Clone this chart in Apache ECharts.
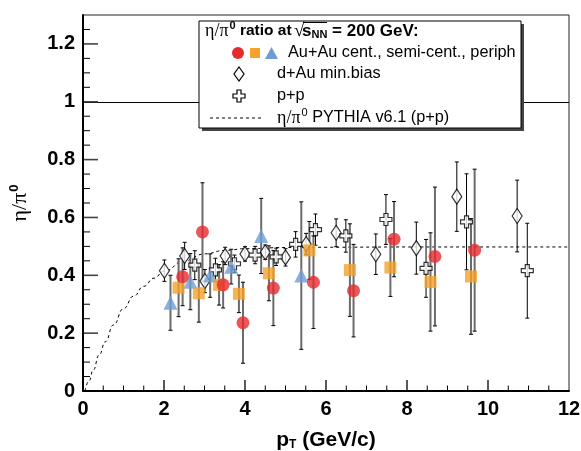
<!DOCTYPE html>
<html>
<head>
<meta charset="utf-8">
<script src="https://cdn.jsdelivr.net/npm/echarts@6/dist/echarts.min.js"></script>
<style>
html,body{margin:0;padding:0;background:#fff;}
#c{width:581px;height:451px;}
</style>
</head>
<body>
<div id="c"></div>
<script>
// ---------- data ----------
const xTickLabels = ['0','2','4','6','8','10','12'];
const yTickLabels = ['0','0.2','0.4','0.6','0.8','1','1.2'];
const xMajorTicks = [2, 4, 6, 8, 10];
const xMinorTicks = [0.5, 1, 1.5, 2.5, 3, 3.5, 4.5, 5, 5.5, 6.5, 7, 7.5, 8.5, 9, 9.5, 10.5, 11, 11.5];
const yMajorTicks = [0.2, 0.4, 0.6, 0.8, 1.0, 1.2];
const yMinorTicks = [0.05, 0.1, 0.15, 0.25, 0.3, 0.35, 0.45, 0.5, 0.55, 0.65, 0.7, 0.75, 0.85, 0.9, 0.95, 1.05, 1.1, 1.15, 1.25];

// Au+Au central (red circles)
const auCentPt  = [2.46, 2.95, 3.46, 3.95, 4.70, 5.69, 6.68, 7.68, 8.69, 9.67];
const auCentVal = [0.395, 0.55, 0.367, 0.236, 0.356, 0.376, 0.347, 0.525, 0.465, 0.487];
const auCentErr = [0.10, 0.17, 0.08, 0.14, 0.13, 0.16, 0.16, 0.13, 0.24, 0.28];

// Au+Au semi-central (orange squares)
const auSemiPt  = [2.36, 2.86, 3.36, 3.85, 4.59, 5.59, 6.59, 7.59, 8.58, 9.58];
const auSemiVal = [0.357, 0.338, 0.367, 0.336, 0.407, 0.486, 0.418, 0.427, 0.377, 0.396];
const auSemiErr = [0.10, 0.10, 0.07, 0.065, 0.095, 0.10, 0.16, 0.10, 0.17, 0.20];

// Au+Au peripheral (blue triangles)
const auPeriPt  = [2.16, 2.65, 3.14, 3.66, 4.40, 5.39];
const auPeriVal = [0.305, 0.378, 0.399, 0.430, 0.536, 0.399];
const auPeriErr = [0.095, 0.097, 0.075, 0.06, 0.13, 0.255];

// d+Au min. bias (open diamonds)
const dAuPt  = [2.01, 2.51, 3.01, 3.51, 4.00, 4.50, 5.00, 5.51, 6.25, 7.23, 8.23, 9.23, 10.72];
const dAuVal = [0.416, 0.467, 0.380, 0.467, 0.474, 0.480, 0.462, 0.508, 0.547, 0.473, 0.494, 0.672, 0.605];
const dAuErr = [0.037, 0.047, 0.04, 0.03, 0.025, 0.025, 0.03, 0.037, 0.048, 0.07, 0.09, 0.12, 0.124];

// p+p (open crosses)
const ppPt  = [2.76, 3.27, 3.74, 4.25, 4.77, 5.25, 5.74, 6.49, 7.48, 8.47, 9.47, 10.97];
const ppVal = [0.435, 0.419, 0.44, 0.47, 0.464, 0.507, 0.558, 0.536, 0.593, 0.424, 0.585, 0.416];
const ppErr = [0.05, 0.04, 0.03, 0.03, 0.03, 0.044, 0.054, 0.056, 0.086, 0.10, 0.166, 0.164];

// PYTHIA v6.1 (p+p) curve
const pythiaPt  = [0.05, 0.15, 0.25, 0.4, 0.55, 0.75, 1.0, 1.25, 1.5, 1.75, 2.0, 2.5, 3.0, 3.5, 4.0, 5.0, 6.0, 8.0, 10.0, 12.0];
const pythiaVal = [0.0, 0.035, 0.072, 0.125, 0.17, 0.228, 0.285, 0.328, 0.362, 0.39, 0.414, 0.450, 0.474, 0.486, 0.492, 0.496, 0.497, 0.498, 0.498, 0.498];

// ---------- helpers ----------
const zip3 = (a,b,c) => a.map((v,i)=>[v,b[i],c[i]]);
const zip2 = (a,b) => a.map((v,i)=>[v,b[i]]);

function errSeries(xs, ys, es, color, width, capColor, capW, z) {
  return {
    type: 'custom', z: z, silent: true,
    data: zip3(xs, ys, es),
    encode: {x: 0, y: 1},
    renderItem: function (params, api) {
      const x = api.value(0), y = api.value(1), e = api.value(2);
      const top = api.coord([x, y + e]);
      const bot = api.coord([x, y - e]);
      return {
        type: 'group',
        children: [
          {type: 'line', shape: {x1: top[0], y1: top[1], x2: bot[0], y2: bot[1]}, style: {stroke: color, lineWidth: width}},
          {type: 'line', shape: {x1: top[0]-capW, y1: top[1], x2: top[0]+capW, y2: top[1]}, style: {stroke: capColor, lineWidth: 1}},
          {type: 'line', shape: {x1: bot[0]-capW, y1: bot[1], x2: bot[0]+capW, y2: bot[1]}, style: {stroke: capColor, lineWidth: 1}}
        ]
      };
    }
  };
}

const crossPath = 'path://M4,0 H8 V4 H12 V8 H8 V12 H4 V8 H0 V4 H4 Z';
const RED = '#e62a2e', ORANGE = '#f5a12b', BLUE = '#6f9dd3';
const SANS = 'Liberation Sans, Arial, Helvetica, sans-serif';
const SERIF = 'Liberation Serif, Times New Roman, serif';

const GRID = {left: 83, right: 12, top: 15, bottom: 60};
const X_MIN = 0, X_MAX = 12, Y_MIN = 0, Y_MAX = 1.3;

const chart = echarts.init(document.getElementById('c'), null, {renderer: 'canvas'});

const legendGraphic = [
  {type: 'rect', z: 100, shape: {x: 202, y: 24, width: 322, height: 107}, style: {fill: '#444'}},
  {type: 'rect', z: 101, shape: {x: 199, y: 21, width: 322, height: 107}, style: {fill: '#fff', stroke: '#000', lineWidth: 1}},
  {type: 'text', z: 102, x: 205, y: 31, style: {
    text: '{g|η/π}{s|0}{b| ratio at}',
    verticalAlign: 'middle',
    rich: {
      g: {fontFamily: SERIF, fontSize: 18, fill: '#000'},
      s: {fontFamily: SANS, fontSize: 11, fontWeight: 'bold', fill: '#000', padding: [0, 0, 10, 1]},
      b: {fontFamily: SANS, fontSize: 15.5, fontWeight: 'bold', fill: '#000'}
    }
  }},
  {type: 'text', z: 102, x: 294, y: 31, style: {text: '√', verticalAlign: 'middle', font: '19px ' + SERIF, fill: '#000'}},
  {type: 'line', z: 102, shape: {x1: 303, y1: 22.5, x2: 327, y2: 22.5}, style: {stroke: '#000', lineWidth: 1}},
  {type: 'text', z: 102, x: 302, y: 31, style: {
    text: '{b|s}{n|NN}{b| = 200 GeV:}',
    verticalAlign: 'middle',
    rich: {
      b: {fontFamily: SANS, fontSize: 17, fontWeight: 'bold', fill: '#000'},
      n: {fontFamily: SANS, fontSize: 11, fontWeight: 'bold', fill: '#000', padding: [8, 0, 0, 0]}
    }
  }},
  {type: 'circle', z: 102, shape: {cx: 238, cy: 53, r: 6}, style: {fill: RED}},
  {type: 'rect', z: 102, shape: {x: 250, y: 48, width: 10, height: 10}, style: {fill: ORANGE}},
  {type: 'polygon', z: 102, shape: {points: [[265, 59], [278, 59], [271.5, 47]]}, style: {fill: BLUE}},
  {type: 'text', z: 102, x: 288, y: 53, style: {text: 'Au+Au cent., semi-cent., periph', verticalAlign: 'middle',
    font: '16.3px ' + SANS, fill: '#000'}},
  {type: 'polygon', z: 102, shape: {points: [[239, 67], [244, 74], [239, 81], [234, 74]]}, style: {fill: '#fff', stroke: '#000', lineWidth: 1.2}},
  {type: 'text', z: 102, x: 277, y: 74, style: {text: 'd+Au min.bias', verticalAlign: 'middle', font: '16.3px ' + SANS, fill: '#000'}},
  {type: 'polygon', z: 102, shape: {points: [[237, 90], [241, 90], [241, 94], [245, 94], [245, 98], [241, 98], [241, 102], [237, 102], [237, 98], [233, 98], [233, 94], [237, 94]]},
   style: {fill: '#fff', stroke: '#000', lineWidth: 1.2}},
  {type: 'text', z: 102, x: 277, y: 96, style: {text: 'p+p', verticalAlign: 'middle', font: '16.3px ' + SANS, fill: '#000'}},
  {type: 'line', z: 102, shape: {x1: 210, y1: 118, x2: 263, y2: 118}, style: {stroke: '#000', lineWidth: 1, lineDash: [3, 3]}},
  {type: 'text', z: 102, x: 277, y: 118, style: {
    text: '{g|η/π}{s|0}{t| PYTHIA v6.1 (p+p)}', verticalAlign: 'middle',
    rich: {
      g: {fontFamily: SERIF, fontSize: 18, fill: '#000'},
      s: {fontFamily: SANS, fontSize: 11, fill: '#000', padding: [0, 0, 10, 1]},
      t: {fontFamily: SANS, fontSize: 16.3, fill: '#000'}
    }
  }}
];

const option = {
  animation: false,
  backgroundColor: '#fff',
  grid: {left: GRID.left, right: GRID.right, top: GRID.top, bottom: GRID.bottom, containLabel: false, outerBoundsMode: 'none',
         show: true, borderColor: '#222', borderWidth: 1, backgroundColor: 'transparent'},
  xAxis: {
    type: 'value', min: X_MIN, max: X_MAX, interval: 2,
    name: '{p|p}{t|T}{p| (GeV/c)}',
    nameLocation: 'middle', nameGap: 38,
    nameTextStyle: {
      rich: {
        p: {fontFamily: SANS, fontSize: 21, fontWeight: 'bold', color: '#000'},
        t: {fontFamily: SANS, fontSize: 12, fontWeight: 'bold', color: '#000', padding: [10, 0, 0, 0]}
      }
    },
    axisLine: {show: true, onZero: false, lineStyle: {color: '#000', width: 2}},
    axisTick: {show: false},
    splitLine: {show: false},
    axisLabel: {
      color: '#000', fontFamily: SANS, fontSize: 20, fontWeight: 'bold', margin: 8,
      formatter: v => { const i = Math.round(v / 2); return Math.abs(v - i*2) < 1e-6 ? xTickLabels[i] : ''; }
    }
  },
  yAxis: {
    type: 'value', min: Y_MIN, max: Y_MAX, interval: 0.2,
    name: '{g|η/π}{s|0}',
    nameLocation: 'middle', nameGap: 50, nameRotate: 90,
    nameTextStyle: {
      rich: {
        g: {fontFamily: SERIF, fontSize: 22, color: '#000'},
        s: {fontFamily: SANS, fontSize: 13, fontWeight: 'bold', color: '#000', padding: [0, 0, 12, 1]}
      }
    },
    axisLine: {show: true, onZero: false, lineStyle: {color: '#000', width: 2}},
    axisTick: {show: false},
    splitLine: {show: false},
    axisLabel: {
      color: '#000', fontFamily: SANS, fontSize: 20, fontWeight: 'bold', margin: 8,
      showMaxLabel: false,
      formatter: v => { const i = Math.round(v / 0.2); return Math.abs(v - i*0.2) < 1e-6 && i < yTickLabels.length ? yTickLabels[i] : ''; }
    }
  },
  series: [
    {
      type: 'line', name: 'PYTHIA', data: zip2(pythiaPt, pythiaVal), smooth: true, smoothMonotone: 'x',
      showSymbol: false, symbol: 'none', silent: true, z: 1,
      lineStyle: {color: '#000', width: 1, type: [3, 3]},
      markLine: {
        silent: true, symbol: 'none', label: {show: false},
        lineStyle: {color: '#000', width: 1, type: 'solid'},
        data: [{yAxis: 1}]
      }
    },
    errSeries(auCentPt, auCentVal, auCentErr, '#6b6b6b', 2, '#000', 2, 2),
    errSeries(auSemiPt, auSemiVal, auSemiErr, '#6b6b6b', 2, '#000', 2, 2),
    errSeries(auPeriPt, auPeriVal, auPeriErr, '#6b6b6b', 2, '#000', 2, 2),
    errSeries(dAuPt, dAuVal, dAuErr, '#000', 1, '#000', 2, 2),
    errSeries(ppPt, ppVal, ppErr, '#000', 1, '#000', 2, 2),
    {type: 'scatter', name: 'd+Au', data: zip2(dAuPt, dAuVal), symbol: 'diamond', symbolSize: [10, 15], z: 3,
     itemStyle: {color: '#fff', borderColor: '#000', borderWidth: 1.2}},
    {type: 'scatter', name: 'p+p', data: zip2(ppPt, ppVal), symbol: crossPath, symbolSize: 12, z: 3,
     itemStyle: {color: '#fff', borderColor: '#000', borderWidth: 1.2}},
    {type: 'scatter', name: 'Au+Au periph', data: zip2(auPeriPt, auPeriVal), symbol: 'triangle', symbolSize: 14, z: 4,
     itemStyle: {color: BLUE}},
    {type: 'scatter', name: 'Au+Au semi', data: zip2(auSemiPt, auSemiVal), symbol: 'rect', symbolSize: 12, z: 4,
     itemStyle: {color: ORANGE}},
    {type: 'scatter', name: 'Au+Au cent', data: zip2(auCentPt, auCentVal), symbol: 'circle', symbolSize: 13, z: 4,
     itemStyle: {color: RED}}
  ],
  graphic: legendGraphic
};
chart.setOption(option);

// ---------- inward tick marks ----------
// Pixel position from the chart's own scale; falls back to the grid's linear mapping if unavailable.
function toPixel(x, y) {
  let p = null;
  try { p = chart.convertToPixel({xAxisIndex: 0, yAxisIndex: 0}, [x, y]); } catch (e) { p = null; }
  if (!p || !isFinite(p[0]) || !isFinite(p[1])) {
    const w = chart.getWidth() - GRID.left - GRID.right;
    const h = chart.getHeight() - GRID.top - GRID.bottom;
    p = [GRID.left + (x - X_MIN) / (X_MAX - X_MIN) * w,
         GRID.top + h - (y - Y_MIN) / (Y_MAX - Y_MIN) * h];
  }
  return p;
}
function tickLines(vals, isX, len, color, width) {
  return vals.map(v => {
    const p = isX ? toPixel(v, Y_MIN) : toPixel(X_MIN, v);
    const shape = isX ? {x1: p[0], y1: p[1] - 1, x2: p[0], y2: p[1] - len}
                      : {x1: p[0] + 1, y1: p[1], x2: p[0] + len, y2: p[1]};
    return {type: 'line', z: 200, silent: true, shape: shape, style: {stroke: color, lineWidth: width}};
  });
}
const tickGraphic = [].concat(
  tickLines(xMajorTicks, true, 11, '#000', 1.3),
  tickLines(xMinorTicks, true, 5.5, '#000', 1),
  tickLines(yMajorTicks, false, 15, '#444', 1.6),
  tickLines(yMinorTicks, false, 7, '#000', 1)
);
chart.setOption({graphic: legendGraphic.concat(tickGraphic)});
</script>
</body>
</html>
